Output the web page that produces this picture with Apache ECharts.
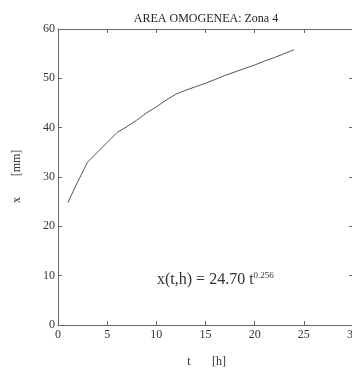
<!DOCTYPE html>
<html><head><meta charset="utf-8">
<script src="https://cdn.jsdelivr.net/npm/echarts@6/dist/echarts.min.js"></script>
<style>html,body{margin:0;padding:0;background:#fff}#c{width:352px;height:369px}</style>
</head><body><div id="c"></div>
<script>
const titleText = "AREA OMOGENEA: Zona 4";
const hours = [1,2,3,4,5,6,7,8,9,10,11,12,13,14,15,16,17,18,19,20,21,22,23,24];
const xValues = [24.8,29.0,33.0,35.0,37.0,39.0,40.2,41.5,43.0,44.2,45.6,46.8,47.6,48.3,49.0,49.8,50.6,51.3,52.0,52.7,53.5,54.2,55.0,55.8];
const xTicks = [0,5,10,15,20,25,30];
const yTicks = [0,10,20,30,40,50,60];

const serif = '"Liberation Serif","DejaVu Serif",serif';
const chart = echarts.init(document.getElementById('c'));
const axisCommon = {
  axisLine:{show:true,onZero:false,lineStyle:{color:'#666',width:1}},
  axisTick:{show:true,inside:true,length:4,lineStyle:{color:'#666'}},
  splitLine:{show:false}
};
chart.setOption({
  animation:false,
  backgroundColor:'#fff',
  title:{text:titleText,left:201,top:8,textAlign:'center',
    textStyle:{fontFamily:serif,fontSize:12,fontWeight:'normal',color:'#222'}},
  grid:{left:58,width:295,top:29,bottom:44,containLabel:false,outerBoundsMode:'none'},
  xAxis:[
    Object.assign({type:'value',min:xTicks[0],max:xTicks[xTicks.length-1],interval:5,position:'bottom',
      axisLabel:{fontFamily:serif,fontSize:12,color:'#333',margin:4}},axisCommon),
    Object.assign({type:'value',min:xTicks[0],max:xTicks[xTicks.length-1],interval:5,position:'top',
      axisLabel:{show:false}},axisCommon)
  ],
  yAxis:[
    Object.assign({type:'value',min:yTicks[0],max:yTicks[yTicks.length-1],interval:10,position:'left',
      axisLabel:{fontFamily:serif,fontSize:12,color:'#333',margin:3}},axisCommon),
    Object.assign({type:'value',min:yTicks[0],max:yTicks[yTicks.length-1],interval:10,position:'right',
      axisLabel:{show:false}},axisCommon)
  ],
  series:[{
    type:'line',xAxisIndex:0,yAxisIndex:0,
    data:hours.map((t,i)=>[t,xValues[i]]),
    showSymbol:false,
    lineStyle:{color:'#555',width:1}
  }],
  graphic:[
    {type:'text',left:157,top:271,style:{
      rich:{a:{fontFamily:serif,fontSize:16,fill:'#333'},s:{fontFamily:serif,fontSize:9,fill:'#333',verticalAlign:'top',padding:[0,0,9,0]}},
      text:'{a|x(t,h) = 24.70 t}{s|0.256}'}},
    {type:'text',x:189,y:362,style:{text:'t',fontFamily:serif,fontSize:12,fill:'#333',align:'center',verticalAlign:'middle'}},
    {type:'text',x:219,y:362,style:{text:'[h]',fontFamily:serif,fontSize:12,fill:'#333',align:'center',verticalAlign:'middle'}},
    {type:'text',x:17,y:200,rotation:Math.PI/2,style:{text:'x',fontFamily:serif,fontSize:12,fill:'#333',align:'center',verticalAlign:'middle'}},
    {type:'text',x:17,y:163,rotation:Math.PI/2,style:{text:'[mm]',fontFamily:serif,fontSize:12,fill:'#333',align:'center',verticalAlign:'middle'}}
  ]
});
</script></body></html>
